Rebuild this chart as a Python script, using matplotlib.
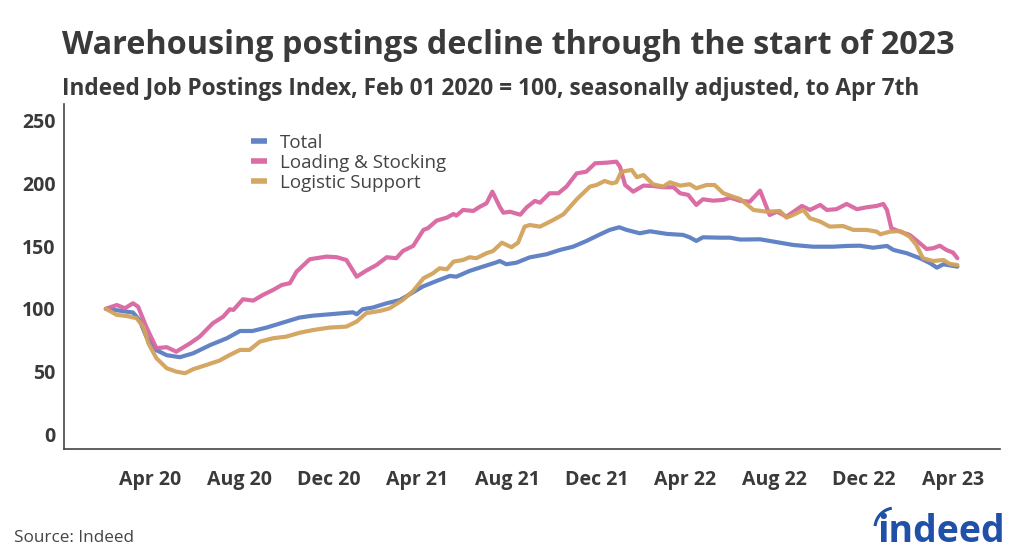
import matplotlib
matplotlib.use("Agg")
import matplotlib.pyplot as plt
from matplotlib.patches import Arc
import pandas as pd

# Indeed Job Postings Index, Feb 01 2020 = 100
total_dates = [
    "2020-02-01", "2020-02-20", "2020-03-09", "2020-03-18", "2020-03-27", "2020-04-10",
    "2020-04-24", "2020-05-12", "2020-05-30", "2020-06-22", "2020-07-15", "2020-08-02",
    "2020-08-19", "2020-09-07", "2020-10-04", "2020-10-22", "2020-11-09", "2020-12-02",
    "2021-01-03", "2021-01-08", "2021-01-16", "2021-01-30", "2021-02-18", "2021-03-08",
    "2021-03-22", "2021-04-08", "2021-04-27", "2021-05-15", "2021-05-24", "2021-06-11",
    "2021-06-29", "2021-07-18", "2021-07-22", "2021-07-31", "2021-08-14", "2021-09-01",
    "2021-09-24", "2021-10-12", "2021-10-30", "2021-11-17", "2021-12-06", "2021-12-19",
    "2022-01-01", "2022-01-11", "2022-01-29", "2022-02-12", "2022-03-07", "2022-03-29",
    "2022-04-07", "2022-04-16", "2022-04-25", "2022-05-18", "2022-06-01", "2022-06-15",
    "2022-07-12", "2022-08-08", "2022-08-26", "2022-09-22", "2022-10-20", "2022-11-07",
    "2022-11-25", "2022-12-13", "2023-01-01", "2023-01-10", "2023-01-28", "2023-02-15",
    "2023-03-01", "2023-03-10", "2023-03-19", "2023-04-07",
]
total_values = [
    100, 98.5, 97, 91, 78, 67,
    63, 61.4, 64.5, 71, 76.5, 82.3,
    82.3, 85, 89.8, 93, 94.5, 95.6,
    97.2, 95.6, 99.6, 101, 104.4, 107,
    111.8, 117.7, 122.2, 126.2, 125.6, 130.2,
    133.6, 137.1, 138.1, 135.5, 136.8, 141,
    143.5, 146.9, 149.5, 154, 159.4, 162.9,
    165, 162.9, 160.2, 161.8, 159.7, 158.9,
    157, 154.1, 157, 156.7, 156.7, 155.2,
    155.4, 152.7, 150.9, 149.5, 149.5, 150.1,
    150.3, 148.7, 150.1, 146.9, 144.3, 140.3,
    136.3, 132.8, 135.5, 133.6,
]

loading_dates = [
    "2020-02-01", "2020-02-16", "2020-02-27", "2020-03-09", "2020-03-16", "2020-03-27",
    "2020-04-10", "2020-04-24", "2020-05-07", "2020-05-26", "2020-06-08", "2020-06-26",
    "2020-07-10", "2020-07-19", "2020-07-24", "2020-08-06", "2020-08-20", "2020-09-02",
    "2020-09-16", "2020-09-28", "2020-10-09", "2020-10-18", "2020-11-05", "2020-11-28",
    "2020-12-12", "2020-12-25", "2021-01-01", "2021-01-08", "2021-01-21", "2021-02-04",
    "2021-02-18", "2021-03-03", "2021-03-12", "2021-03-26", "2021-04-09", "2021-04-15",
    "2021-04-27", "2021-05-11", "2021-05-20", "2021-05-24", "2021-06-02", "2021-06-16",
    "2021-06-25", "2021-07-04", "2021-07-12", "2021-07-22", "2021-07-27", "2021-08-05",
    "2021-08-19", "2021-08-28", "2021-09-08", "2021-09-15", "2021-09-28", "2021-10-10",
    "2021-10-21", "2021-11-04", "2021-11-17", "2021-11-29", "2021-12-15", "2021-12-28",
    "2022-01-02", "2022-01-09", "2022-01-20", "2022-02-03", "2022-02-16", "2022-03-02",
    "2022-03-16", "2022-03-25", "2022-04-05", "2022-04-16", "2022-04-25", "2022-05-09",
    "2022-05-23", "2022-06-01", "2022-06-15", "2022-06-28", "2022-07-12", "2022-07-25",
    "2022-08-04", "2022-08-17", "2022-09-07", "2022-09-18", "2022-10-02", "2022-10-11",
    "2022-10-24", "2022-11-07", "2022-11-21", "2022-12-04", "2022-12-18", "2022-12-27",
    "2023-01-01", "2023-01-07", "2023-01-19", "2023-02-01", "2023-02-15", "2023-02-24",
    "2023-03-05", "2023-03-14", "2023-03-23", "2023-04-01", "2023-04-07",
]
loading_values = [
    100, 103, 100.4, 104.4, 101.7, 85.8,
    68.6, 69.4, 65.8, 72.5, 77.8, 88.5,
    93.7, 99.6, 99.1, 107.6, 106.5, 111,
    115, 119, 120.4, 129.6, 139.5, 141.6,
    141.1, 138.9, 132.3, 125.6, 130.4, 134.9,
    141.1, 140.3, 146.1, 150.1, 162.9, 164.2,
    170.3, 172.7, 175.6, 174.3, 178.8, 178,
    181.4, 184.1, 193.4, 181.4, 176.6, 177.4,
    175, 181, 186, 184.6, 192.1, 192.1,
    197.4, 208, 209.3, 216, 216.5, 217.3,
    213.3, 198.7, 193.4, 198.2, 197.9, 196.9,
    196.9, 192.1, 190.8, 182.8, 187.3, 186.2,
    186.8, 188.6, 186, 185.4, 194.2, 174.8,
    177.4, 173.5, 182, 178.8, 182.8, 178.8,
    179.4, 183.6, 179.4, 180.9, 182, 183.6,
    178.8, 164.2, 161.5, 158.9, 152.2, 147.7,
    148.3, 150.3, 146.9, 144.8, 140.3,
]

logistic_dates = [
    "2020-02-01", "2020-02-16", "2020-02-29", "2020-03-14", "2020-03-23", "2020-03-30",
    "2020-04-10", "2020-04-24", "2020-05-07", "2020-05-19", "2020-05-30", "2020-06-17",
    "2020-07-05", "2020-07-19", "2020-08-02", "2020-08-15", "2020-08-29", "2020-09-16",
    "2020-10-04", "2020-10-23", "2020-11-10", "2020-12-02", "2020-12-25", "2021-01-08",
    "2021-01-21", "2021-02-09", "2021-02-22", "2021-03-12", "2021-03-26", "2021-04-09",
    "2021-04-22", "2021-05-01", "2021-05-11", "2021-05-20", "2021-06-02", "2021-06-11",
    "2021-06-20", "2021-07-04", "2021-07-13", "2021-07-25", "2021-08-07", "2021-08-16",
    "2021-08-25", "2021-09-01", "2021-09-15", "2021-10-03", "2021-10-17", "2021-11-04",
    "2021-11-22", "2021-12-01", "2021-12-12", "2021-12-22", "2021-12-28", "2022-01-04",
    "2022-01-18", "2022-01-25", "2022-02-03", "2022-02-16", "2022-03-02", "2022-03-11",
    "2022-03-25", "2022-04-07", "2022-04-16", "2022-04-30", "2022-05-11", "2022-05-23",
    "2022-06-05", "2022-06-15", "2022-07-03", "2022-07-21", "2022-08-08", "2022-08-17",
    "2022-08-26", "2022-09-09", "2022-09-18", "2022-10-02", "2022-10-15", "2022-11-02",
    "2022-11-16", "2022-12-04", "2022-12-18", "2022-12-23", "2023-01-05", "2023-01-19",
    "2023-02-01", "2023-02-10", "2023-02-19", "2023-03-05", "2023-03-19", "2023-03-28",
    "2023-04-07",
]
logistic_values = [
    100, 95.1, 94.3, 92.5, 85.8, 72.5,
    60.6, 52.6, 49.9, 48.6, 51.8, 55.2,
    58.7, 63.2, 67.2, 67.2, 73.8, 76.5,
    77.8, 81, 83.1, 85, 85.8, 89.8,
    96.5, 98.3, 100.4, 107.1, 114.2, 124.3,
    128.3, 132.3, 131.5, 137.6, 138.9, 141.1,
    140.3, 144.3, 146.1, 152.7, 149.1, 152.7,
    165.5, 166.8, 165.5, 170.8, 175.4, 187.3,
    197.4, 198.7, 201.9, 200, 200.9, 209.3,
    210.7, 204.9, 206.7, 199.3, 197.4, 200.9,
    198.2, 199.3, 196.1, 198.7, 198.7, 192.1,
    189.4, 187.5, 178.8, 177.4, 178, 172.7,
    174.8, 178.8, 172.2, 169.5, 165.5, 166,
    162.9, 162.9, 161.5, 159.4, 161.5, 162,
    157.5, 150.9, 140.3, 138.1, 138.9, 135.7,
    134.9,
]

series = [
    ("Total", total_dates, total_values, "#5A7DC2"),
    ("Loading & Stocking", loading_dates, loading_values, "#D965A1"),
    ("Logistic Support", logistic_dates, logistic_values, "#D3A25C"),
]
tick_labels = ["Apr 20", "Aug 20", "Dec 20", "Apr 21", "Aug 21",
               "Dec 21", "Apr 22", "Aug 22", "Dec 22", "Apr 23"]
tick_dates = ["2020-04-01", "2020-08-01", "2020-12-01", "2021-04-01", "2021-08-01",
              "2021-12-01", "2022-04-01", "2022-08-01", "2022-12-01", "2023-04-01"]

plt.rcParams["font.family"] = ["Open Sans", "DejaVu Sans"]
text_color = "#3a3a3a"

fig = plt.figure(figsize=(10.24, 5.59), dpi=100)
ax = fig.add_axes([0.0625, 0.197, 0.914, 0.617])

for name, dates, values, color in series:
    ax.plot(pd.to_datetime(dates), values, color=color, linewidth=3.0,
            alpha=0.95, label=name, solid_capstyle="round")

ax.set_xlim(pd.Timestamp("2019-12-06"), pd.Timestamp("2023-06-04"))
ax.set_ylim(-11.7, 263.3)
ax.set_yticks([0, 50, 100, 150, 200, 250])
ax.set_xticks(pd.to_datetime(tick_dates))
ax.set_xticklabels(tick_labels)

for side in ["top", "right"]:
    ax.spines[side].set_visible(False)
for side in ["left", "bottom"]:
    ax.spines[side].set_color("#444444")
    ax.spines[side].set_linewidth(1.2)

ax.tick_params(axis="both", length=0, colors=text_color, labelsize=14)
ax.tick_params(axis="x", pad=15)
ax.tick_params(axis="y", pad=6)
for lbl in ax.get_xticklabels() + ax.get_yticklabels():
    lbl.set_fontweight("bold")

leg = ax.legend(loc="upper left", bbox_to_anchor=(0.192, 0.935), frameon=False,
                fontsize=13.5, handlelength=0.85, handletextpad=0.7,
                labelspacing=0.1, borderaxespad=0)
for line in leg.get_lines():
    line.set_linewidth(4)
    line.set_solid_capstyle("butt")
for txt in leg.get_texts():
    txt.set_color("#444444")

fig.text(0.061, 0.918, "Warehousing postings decline through the start of 2023",
         fontsize=23.3, fontweight="bold", color=text_color, ha="left", va="center")
fig.text(0.061, 0.841,
         "Indeed Job Postings Index, Feb 01 2020 = 100, seasonally adjusted, to Apr 7th",
         fontsize=16.3, fontweight="bold", color=text_color, ha="left", va="center")
fig.text(0.014, 0.037, "Source: Indeed", fontsize=12.3, color="#444444",
         ha="left", va="center")

# indeed logo
logo_blue = "#2150A8"
fig.text(0.9815, 0.0304, "indeed", fontsize=27, fontweight="bold", color=logo_blue,
         ha="right", va="baseline")
fig.patches.append(Arc((0.874, 0.0555), 0.039, 0.0716, theta1=95, theta2=170,
                       transform=fig.transFigure, color=logo_blue, linewidth=2.2))

fig.savefig("out.png", dpi=100, facecolor="white")
